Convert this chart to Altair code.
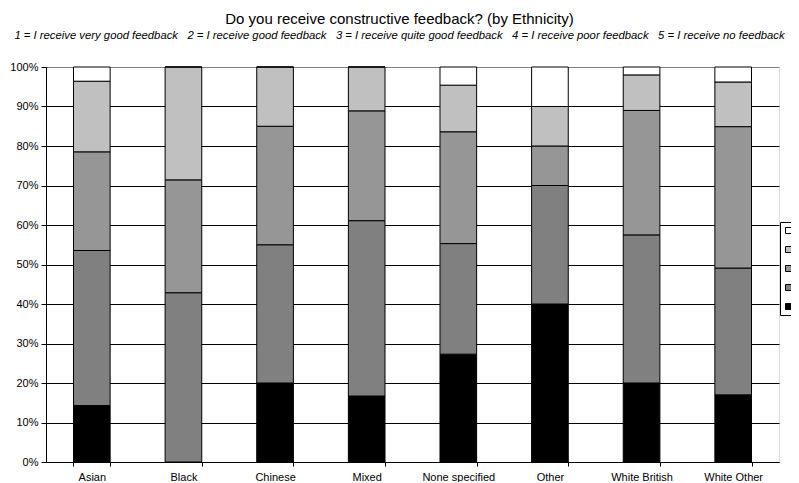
import altair as alt
import pandas as pd

categories = ["Asian", "Black", "Chinese", "Mixed", "None specified", "Other", "White British", "White Other"]
ratings = ["1", "2", "3", "4", "5"]
rating_colors = ["#000000", "#808080", "#969696", "#C0C0C0", "#FFFFFF"]

# percentage of each rating (1..5) per ethnicity
asian = [14.3, 39.3, 25.0, 17.9, 3.6]
black = [0.0, 42.9, 28.6, 28.6, 0.0]
chinese = [20.0, 35.0, 30.0, 15.0, 0.0]
mixed = [16.7, 44.4, 27.8, 11.1, 0.0]
none_specified = [27.3, 28.0, 28.3, 11.8, 4.6]
other = [40.0, 30.0, 10.0, 10.0, 10.0]
white_british = [20.0, 37.5, 31.5, 9.0, 2.0]
white_other = [17.0, 32.1, 35.8, 11.3, 3.8]

series = [asian, black, chinese, mixed, none_specified, other, white_british, white_other]

rows = []
for cat, vals in zip(categories, series):
    for r, v in zip(ratings, vals):
        rows.append({"ethnicity": cat, "rating": r, "rank": int(r), "value": v})
df = pd.DataFrame(rows)

gap = "\u00a0\u00a0\u00a0"
subtitle_parts = [
    "1 = I receive very good feedback",
    "2 = I receive good feedback",
    "3 = I receive quite good feedback",
    "4 = I receive poor feedback",
    "5 = I receive no feedback",
]
title_text = "Do you receive constructive feedback? (by Ethnicity)"
subtitle_text = gap.join(subtitle_parts)

chart = alt.Chart(df).mark_bar(stroke="#000000", strokeWidth=1).encode(
    x=alt.X(
        "ethnicity:N",
        sort=categories,
        title=None,
        scale=alt.Scale(paddingInner=0.6, paddingOuter=0.3),
        axis=alt.Axis(
            labelAngle=0, tickBand="extent", tickSize=4, tickColor="#000000",
            domainColor="#000000", labelFont="Liberation Sans", labelFontSize=11,
            labelColor="#000000", labelPadding=5,
        ),
    ),
    y=alt.Y(
        "value:Q",
        stack="normalize",
        title=None,
        scale=alt.Scale(domain=[0, 1], nice=False),
        axis=alt.Axis(
            format="%", values=[0, 0.1, 0.2, 0.3, 0.4, 0.5, 0.6, 0.7, 0.8, 0.9, 1.0],
            grid=True,
            gridColor=alt.condition("datum.value == 1", alt.value("#808080"), alt.value("#000000")),
            gridWidth=1, gridOpacity=1,
            tickSize=5, tickColor="#000000", domainColor="#000000",
            labelFont="Liberation Sans", labelFontSize=11, labelColor="#000000",
            labelPadding=3,
        ),
    ),
    color=alt.Color(
        "rating:N",
        scale=alt.Scale(domain=ratings, range=rating_colors),
        legend=alt.Legend(
            title=None, orient="none", legendX=734, legendY=155,
            values=["5", "4", "3", "2", "1"],
            symbolType="square", symbolSize=36, symbolStrokeColor="#000000",
            symbolStrokeWidth=1, symbolOpacity=1,
            strokeColor="#000000", padding=3, rowPadding=7,
            labelExpr="''", labelFontSize=11,
        ),
    ),
    order=alt.Order("rank:Q", sort="ascending"),
).properties(
    width=733,
    height=395,
    title=alt.TitleParams(
        text=title_text,
        subtitle=subtitle_text,
        anchor="middle",
        dx=-13,
        font="Liberation Sans",
        fontSize=15,
        fontWeight="normal",
        color="#000000",
        subtitleFont="Liberation Sans",
        subtitleFontSize=11.3,
        subtitleFontStyle="italic",
        subtitleColor="#000000",
        subtitlePadding=3,
        offset=20,
    ),
    autosize=alt.AutoSizeParams(type="none"),
    padding={"left": 38, "top": 59, "right": 12, "bottom": 20},
).configure_view(
    stroke="#808080", strokeWidth=1
).configure(
    background="#FFFFFF"
)

chart.save("out.html", embed_options={"renderer": "svg", "actions": False})
